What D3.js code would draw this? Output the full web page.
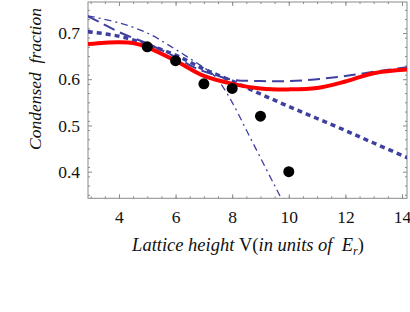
<!DOCTYPE html>
<html><head><meta charset="utf-8">
<script src="https://cdn.jsdelivr.net/npm/d3@7"></script>
<style>body{margin:0;background:#fff}svg{display:block}</style>
</head><body>
<svg id="c" width="410" height="312"></svg>
<script>
const pointsX = [5, 6, 7, 8, 9, 10];
const pointsY = [0.670, 0.640, 0.590, 0.580, 0.520, 0.400];

const redX = [2.9, 3.5, 4, 4.5, 5, 6, 7, 8, 9, 10, 11, 12, 13, 14.2];
const redY = [0.676, 0.679, 0.680, 0.678, 0.669, 0.640, 0.607, 0.590, 0.580, 0.578, 0.581, 0.595, 0.613, 0.621];

const dottedX = [2.9, 4, 5, 6, 7, 8, 9, 10, 11, 12, 13, 14.2];
const dottedY = [0.703, 0.693, 0.675, 0.652, 0.622, 0.596, 0.568, 0.541, 0.515, 0.489, 0.462, 0.430];

const dashX = [2.9, 3.3, 4, 5, 6, 6.6, 7, 7.5, 8, 9, 10, 11, 12, 13, 14.2];
const dashY = [0.736, 0.724, 0.702, 0.677, 0.648, 0.627, 0.617, 0.607, 0.599, 0.596, 0.596, 0.600, 0.607, 0.616, 0.626];

const dashDotX = [2.9, 4, 5, 5.8, 6.5, 7, 7.3, 7.6, 8, 8.5, 9, 9.5, 9.8];
const dashDotY = [0.737, 0.722, 0.700, 0.672, 0.645, 0.625, 0.612, 0.590, 0.550, 0.490, 0.430, 0.370, 0.334];

const xTicks = [4, 6, 8, 10, 12, 14];
const yTicks = [0.4, 0.5, 0.6, 0.7];

const svg = d3.select("#c");
const L = 88, R = 407, T = 2, B = 198.3;
const x = d3.scaleLinear().domain([2.905, 14.177]).range([L, R]);
const y = d3.scaleLinear().domain([0.3424, 0.767]).range([B, T]);

const frameColor = "#8a8a8a";
const serif = "'Liberation Serif', 'DejaVu Serif', serif";

const xMinor = d3.range(3, 14.2, 0.5);
const yMinor = d3.range(0.35, 0.77, 0.02).map(v => +v.toFixed(2));

function axisG(axis, tx, ty) {
  const g = svg.append("g").attr("transform", `translate(${tx},${ty})`).call(axis);
  g.select(".domain").remove();
  g.selectAll("line").attr("stroke", frameColor).attr("stroke-width", 1);
  g.attr("font-family", serif);
  return g;
}
axisG(d3.axisBottom(x).tickValues(xMinor).tickSize(-2).tickFormat(""), 0, B);
axisG(d3.axisTop(x).tickValues(xMinor).tickSize(-2).tickFormat(""), 0, T);
axisG(d3.axisLeft(y).tickValues(yMinor).tickSize(-2).tickFormat(""), L, 0);
axisG(d3.axisRight(y).tickValues(yMinor).tickSize(-2).tickFormat(""), R, 0);

const bx = axisG(d3.axisBottom(x).tickValues(xTicks).tickSize(-4).tickPadding(12).tickFormat(d3.format("d")), 0, B);
bx.selectAll("text").attr("font-family", serif).attr("font-size", 17.5).attr("fill", "#111");
axisG(d3.axisTop(x).tickValues(xTicks).tickSize(-4).tickFormat(""), 0, T);
const ly = axisG(d3.axisLeft(y).tickValues(yTicks).tickSize(-4).tickPadding(8).tickFormat(d3.format(".1f")), L, 0);
ly.selectAll("text").attr("font-family", serif).attr("font-size", 17.5).attr("fill", "#111");
axisG(d3.axisRight(y).tickValues(yTicks).tickSize(-4).tickFormat(""), R, 0);

svg.append("rect").attr("x", L).attr("y", T).attr("width", R - L).attr("height", B - T)
  .attr("fill", "none").attr("stroke", frameColor).attr("stroke-width", 1);

svg.append("clipPath").attr("id", "clip").append("rect")
  .attr("x", L).attr("y", T).attr("width", R - L).attr("height", B - T);
const plot = svg.append("g").attr("clip-path", "url(#clip)");

const line = d3.line().x(d => x(d[0])).y(d => y(d[1])).curve(d3.curveCatmullRom.alpha(0.5));
const blue = "#3f3fa0";
function drawLine(xs, ys, color, w, dash) {
  plot.append("path").datum(xs.map((v, i) => [v, ys[i]]))
    .attr("d", line).attr("fill", "none").attr("stroke", color)
    .attr("stroke-width", w).attr("stroke-dasharray", dash);
}
drawLine(dashDotX, dashDotY, blue, 1.3, "7,4,2,4");
drawLine(dashX, dashY, blue, 2, "12,6");
drawLine(dottedX, dottedY, blue, 3.5, "5,4");
drawLine(redX, redY, "#ff0000", 4, null);

plot.selectAll("circle").data(pointsX.map((v, i) => [v, pointsY[i]])).join("circle")
  .attr("cx", d => x(d[0])).attr("cy", d => y(d[1])).attr("r", 5.5).attr("fill", "#000");

svg.append("text").attr("transform", "translate(41,79) rotate(-90)")
  .attr("text-anchor", "middle").attr("font-family", serif).attr("font-style", "italic")
  .attr("font-size", 17.5).attr("fill", "#111").attr("xml:space", "preserve")
  .text("Condensed  fraction");

const xl = svg.append("text").attr("x", 248).attr("y", 251).attr("text-anchor", "middle")
  .attr("font-family", serif).attr("font-size", 18.5).attr("fill", "#111").attr("xml:space", "preserve");
xl.append("tspan").attr("font-style", "italic").text("Lattice height ");
xl.append("tspan").text("V(");
xl.append("tspan").attr("font-style", "italic").text("in units of  E");
xl.append("tspan").attr("font-style", "italic").attr("font-size", 12).attr("dy", 4).text("r");
xl.append("tspan").attr("dy", -4).text(")");
</script>
</body></html>
